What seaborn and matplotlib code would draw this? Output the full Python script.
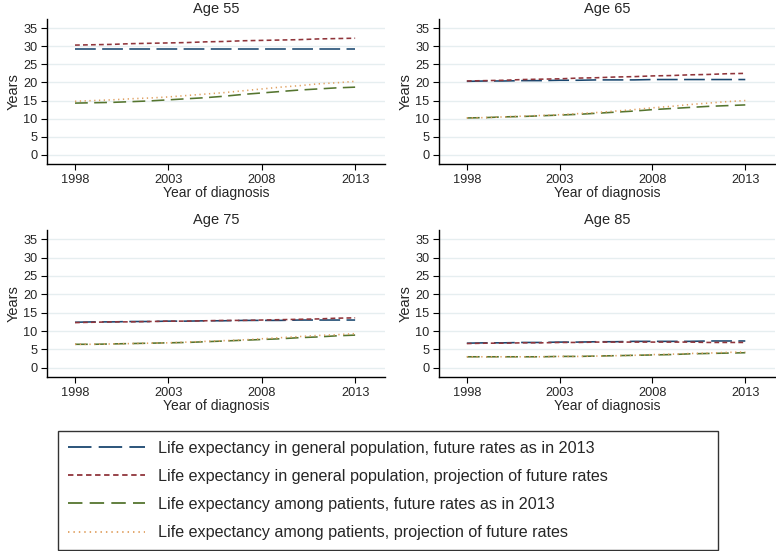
import numpy as np
import pandas as pd
import matplotlib
matplotlib.use("Agg")
import matplotlib.pyplot as plt
import seaborn as sns
from matplotlib.lines import Line2D

years = list(range(1998, 2014))
panels = ["Age 55", "Age 65", "Age 75", "Age 85"]
series = [
    "Life expectancy in general population, future rates as in 2013",
    "Life expectancy in general population, projection of future rates",
    "Life expectancy among patients, future rates as in 2013",
    "Life expectancy among patients, projection of future rates",
]

# Age 55
a55_gen_fixed = [29.2, 29.2, 29.2, 29.2, 29.2, 29.2, 29.2, 29.2, 29.2, 29.2, 29.2, 29.2, 29.2, 29.2, 29.2, 29.2]
a55_gen_proj = [30.3, 30.4, 30.5, 30.7, 30.8, 30.9, 31.0, 31.2, 31.3, 31.5, 31.6, 31.7, 31.8, 32.0, 32.1, 32.2]
a55_pat_fixed = [14.3, 14.4, 14.5, 14.7, 14.9, 15.2, 15.5, 15.8, 16.2, 16.7, 17.1, 17.5, 17.9, 18.2, 18.5, 18.7]
a55_pat_proj = [14.8, 15.0, 15.2, 15.5, 15.7, 16.0, 16.4, 16.8, 17.2, 17.7, 18.2, 18.7, 19.1, 19.6, 19.9, 20.3]
# Age 65
a65_gen_fixed = [20.3, 20.4, 20.4, 20.5, 20.5, 20.6, 20.6, 20.7, 20.7, 20.7, 20.8, 20.8, 20.8, 20.8, 20.8, 20.8]
a65_gen_proj = [20.4, 20.5, 20.6, 20.8, 20.9, 21.0, 21.2, 21.3, 21.5, 21.6, 21.8, 21.9, 22.1, 22.2, 22.4, 22.5]
a65_pat_fixed = [10.2, 10.3, 10.5, 10.6, 10.8, 11.0, 11.2, 11.5, 11.8, 12.1, 12.5, 12.8, 13.1, 13.4, 13.6, 13.8]
a65_pat_proj = [10.2, 10.3, 10.5, 10.7, 10.9, 11.1, 11.4, 11.7, 12.1, 12.5, 13.0, 13.4, 13.9, 14.3, 14.7, 15.0]
# Age 75
a75_gen_fixed = [12.4, 12.5, 12.5, 12.6, 12.6, 12.7, 12.7, 12.8, 12.8, 12.9, 12.9, 12.9, 13.0, 13.0, 13.0, 13.0]
a75_gen_proj = [12.3, 12.4, 12.5, 12.5, 12.6, 12.7, 12.7, 12.8, 12.9, 12.9, 13.0, 13.1, 13.2, 13.3, 13.5, 13.6]
a75_pat_fixed = [6.4, 6.4, 6.5, 6.6, 6.7, 6.8, 6.9, 7.1, 7.3, 7.5, 7.7, 7.9, 8.2, 8.4, 8.7, 8.9]
a75_pat_proj = [6.4, 6.4, 6.5, 6.6, 6.7, 6.8, 7.0, 7.2, 7.4, 7.6, 7.9, 8.2, 8.5, 8.8, 9.0, 9.3]
# Age 85
a85_gen_fixed = [6.7, 6.8, 6.8, 6.9, 6.9, 7.0, 7.0, 7.1, 7.1, 7.2, 7.2, 7.2, 7.2, 7.3, 7.3, 7.3]
a85_gen_proj = [6.6, 6.7, 6.7, 6.8, 6.8, 6.9, 6.9, 7.0, 7.0, 7.0, 7.0, 7.0, 7.0, 6.9, 6.9, 6.9]
a85_pat_fixed = [3.0, 3.0, 3.0, 3.0, 3.0, 3.1, 3.1, 3.2, 3.3, 3.4, 3.5, 3.6, 3.8, 3.9, 4.0, 4.1]
a85_pat_proj = [3.0, 3.0, 3.0, 3.0, 3.0, 3.1, 3.1, 3.2, 3.3, 3.4, 3.6, 3.7, 3.9, 4.0, 4.2, 4.3]

panel_data = {
    "Age 55": [a55_gen_fixed, a55_gen_proj, a55_pat_fixed, a55_pat_proj],
    "Age 65": [a65_gen_fixed, a65_gen_proj, a65_pat_fixed, a65_pat_proj],
    "Age 75": [a75_gen_fixed, a75_gen_proj, a75_pat_fixed, a75_pat_proj],
    "Age 85": [a85_gen_fixed, a85_gen_proj, a85_pat_fixed, a85_pat_proj],
}

rows = []
for p in panels:
    for s, vals in zip(series, panel_data[p]):
        for y, v in zip(years, vals):
            rows.append({"panel": p, "series": s, "year": y, "value": v})
df = pd.DataFrame(rows)

colors = ["#1a476f", "#90353b", "#55752f", "#e0a060"]
palette = dict(zip(series, colors))
dash_list = [(13, 4), (3, 2), (8, 4), (0.8, 2.2)]
dashes = dict(zip(series, dash_list))

sns.set_theme(style="white")
plt.rcParams["font.family"] = ["Liberation Sans", "DejaVu Sans"]
plt.rcParams["font.size"] = 10

W, H = 776, 551
fig = plt.figure(figsize=(W / 100, H / 100), dpi=100)

# axes pixel boxes: left, right, top, bottom
boxes = {
    "Age 55": (47, 385, 19, 164),
    "Age 65": (439, 775, 19, 164),
    "Age 75": (47, 385, 230, 377),
    "Age 85": (439, 775, 230, 377),
}

for p in panels:
    l, r, t, b = boxes[p]
    ax = fig.add_axes([l / W, 1 - b / H, (r - l) / W, (b - t) / H])
    sub = df[df["panel"] == p]
    sns.lineplot(data=sub, x="year", y="value", hue="series", style="series",
                 palette=palette, dashes=dashes, hue_order=series,
                 style_order=series, linewidth=1.15, ax=ax, legend=False)
    ax.set_xlim(1996.5, 2014.6)
    ax.set_ylim(-2.5, 37.5)
    ax.set_xticks([1998, 2003, 2008, 2013])
    ax.set_yticks(range(0, 36, 5))
    ax.grid(axis="y", color="#e6eef0", linewidth=1.0)
    ax.set_axisbelow(True)
    for sp in ["top", "right"]:
        ax.spines[sp].set_visible(False)
    for sp in ["left", "bottom"]:
        ax.spines[sp].set_color("black")
        ax.spines[sp].set_linewidth(1.0)
    ax.tick_params(axis="both", which="major", length=4.5, width=0.8,
                   color="black", labelsize=9.2, pad=2.5, direction="out",
                   bottom=True, left=True)
    ax.set_xlabel("Year of diagnosis", fontsize=10, labelpad=0)
    ax.set_ylabel("Years", fontsize=10.5, labelpad=2)
    ax.set_title(p, fontsize=10.5, pad=4)

handles = [Line2D([0], [0], color=c, linewidth=1.3, dashes=d)
           for c, d in zip(colors, dash_list)]
legw = (718 - 58) / W
leg = fig.legend(handles, series, loc="lower left",
                 bbox_to_anchor=(58 / W, 1 / H, legw, 123 / H), mode="expand",
                 ncol=1, frameon=True, fancybox=False, edgecolor="black",
                 fontsize=11.6, handlelength=4.8, handletextpad=0.8,
                 labelspacing=0.82, borderpad=0.6, borderaxespad=0)
leg.get_frame().set_linewidth(1.0)

fig.savefig("out.png", dpi=100)
